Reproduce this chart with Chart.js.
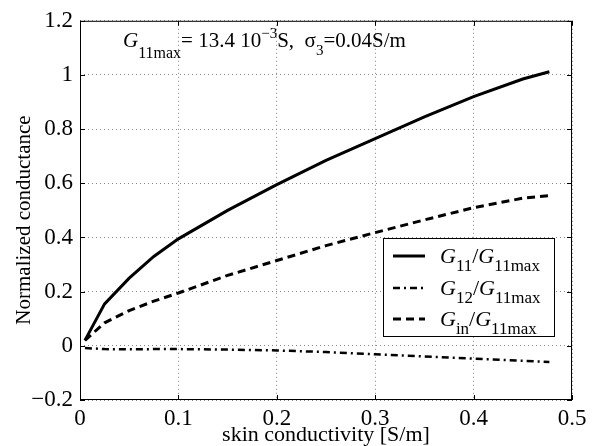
<!DOCTYPE html>
<html>
<head>
<meta charset="utf-8">
<script src="https://cdn.jsdelivr.net/npm/chart.js@4.4.1/dist/chart.umd.min.js"></script>
<style>
html,body{margin:0;padding:0;background:#fff;}
#wrap{width:599px;height:446px;}
</style>
</head>
<body>
<div id="wrap"><canvas id="c" width="599" height="446"></canvas></div>
<script>
const skinX = [0.005, 0.025, 0.05, 0.075, 0.1, 0.15, 0.2, 0.25, 0.3, 0.35, 0.4, 0.45, 0.477];
const g11 = [0.02, 0.155, 0.25, 0.33, 0.395, 0.50, 0.595, 0.685, 0.765, 0.845, 0.92, 0.985, 1.012];
const g12 = [-0.008, -0.012, -0.013, -0.012, -0.012, -0.014, -0.017, -0.023, -0.031, -0.039, -0.047, -0.055, -0.06];
const gin = [0.02, 0.085, 0.13, 0.165, 0.195, 0.26, 0.315, 0.37, 0.418, 0.465, 0.51, 0.545, 0.555];
const xTicks = [0, 0.1, 0.2, 0.3, 0.4, 0.5];
const xTickLabels = ['0', '0.1', '0.2', '0.3', '0.4', '0.5'];
const yTicks = [-0.2, 0, 0.2, 0.4, 0.6, 0.8, 1, 1.2];
const yTickLabels = ['\u22120.2', '0', '0.2', '0.4', '0.6', '0.8', '1', '1.2'];
const xTitle = 'skin conductivity [S/m]';
const yTitle = 'Normalized conductance';
const legendRows = [
  {main: '11', den: '11max'},
  {main: '12', den: '11max'},
  {main: 'in', den: '11max'}
];

const SERIF = '"Liberation Serif", "DejaVu Serif", serif';
const pts = arr => skinX.map((x, i) => ({x: x, y: arr[i]}));

const frame = {
  id: 'frame',
  afterDraw(chart) {
    const ctx = chart.ctx, a = chart.chartArea;
    const xs = chart.scales.x, ys = chart.scales.y;
    ctx.save();
    ctx.strokeStyle = '#000';
    ctx.lineWidth = 1;
    ctx.strokeRect(a.left + 0.5, a.top + 0.5, a.right - a.left - 1, a.bottom - a.top - 1);
    // inward ticks
    ctx.beginPath();
    xTicks.forEach(v => {
      const px = Math.round(xs.getPixelForValue(v)) + 0.5;
      ctx.moveTo(px, a.bottom); ctx.lineTo(px, a.bottom - 5);
      ctx.moveTo(px, a.top); ctx.lineTo(px, a.top + 5);
    });
    yTicks.forEach(v => {
      const py = Math.round(ys.getPixelForValue(v)) + 0.5;
      ctx.moveTo(a.left, py); ctx.lineTo(a.left + 5, py);
      ctx.moveTo(a.right, py); ctx.lineTo(a.right - 5, py);
    });
    ctx.stroke();

    // axis titles
    ctx.fillStyle = '#000';
    ctx.font = '22px ' + SERIF;
    ctx.textAlign = 'center';
    ctx.textBaseline = 'alphabetic';
    ctx.fillText(xTitle, (a.left + a.right) / 2, 441);
    ctx.save();
    ctx.translate(24, 220);
    ctx.rotate(-Math.PI / 2);
    ctx.textBaseline = 'middle';
    ctx.font = '21px ' + SERIF;
    ctx.fillText(yTitle, 0, 0);
    ctx.restore();

    // annotation text
    ctx.textBaseline = 'alphabetic';
    ctx.textAlign = 'left';
    let x = a.left + 43, y = a.top + 26;
    const put = (t, font, dy) => {
      ctx.font = font;
      ctx.fillText(t, x, y + (dy || 0));
      x += ctx.measureText(t).width;
    };
    put('G', 'italic 21px ' + SERIF);
    put('11max', '16px ' + SERIF, 11);
    put('= 13.4 10', '21px ' + SERIF);
    put('\u22123', '15px ' + SERIF, -9);
    put('S,  \u03c3', '21px ' + SERIF);
    put('3', '15px ' + SERIF, 8);
    put('=0.04S/m', '21px ' + SERIF);

    // legend
    const lx = 383, ly = 238, lw = 171, lh = 98;
    ctx.fillStyle = '#fff';
    ctx.fillRect(lx, ly, lw, lh);
    ctx.strokeStyle = '#000';
    ctx.lineWidth = 1;
    ctx.strokeRect(lx + 0.5, ly + 0.5, lw, lh);
    const rowY = [256, 288, 319];
    chart.data.datasets.forEach((ds, i) => {
      ctx.save();
      ctx.strokeStyle = ds.borderColor;
      ctx.lineWidth = ds.borderWidth;
      ctx.setLineDash(ds.borderDash || []);
      ctx.beginPath();
      ctx.moveTo(lx + 10, rowY[i]);
      ctx.lineTo(lx + 42, rowY[i]);
      ctx.stroke();
      ctx.restore();
      ctx.fillStyle = '#000';
      x = lx + 57; y = rowY[i] + 7;
      put('G', 'italic 22px ' + SERIF);
      put(legendRows[i].main, '17px ' + SERIF, 8);
      put('/', '22px ' + SERIF);
      put('G', 'italic 22px ' + SERIF);
      put(legendRows[i].den, '17px ' + SERIF, 8);
    });
    ctx.restore();
  }
};

new Chart(document.getElementById('c'), {
  type: 'scatter',
  data: {
    datasets: [
      {label: 'G11/G11max', data: pts(g11), showLine: true, borderColor: '#000', borderWidth: 3, pointRadius: 0, borderDash: []},
      {label: 'G12/G11max', data: pts(g12), showLine: true, borderColor: '#000', borderWidth: 2.5, pointRadius: 0, borderDash: [7, 4, 2, 4]},
      {label: 'Gin/G11max', data: pts(gin), showLine: true, borderColor: '#000', borderWidth: 3, pointRadius: 0, borderDash: [8, 5]}
    ]
  },
  options: {
    responsive: false,
    animation: false,
    layout: {padding: {top: 14, right: 27, left: 0, bottom: 0}},
    plugins: {legend: {display: false}, tooltip: {enabled: false}},
    scales: {
      x: {
        type: 'linear', min: 0, max: 0.5,
        afterBuildTicks: s => { s.ticks = xTicks.map(v => ({value: v})); },
        afterFit: s => { s.height = 46; },
        ticks: {
          color: '#000', padding: 5, maxRotation: 0,
          font: {family: SERIF, size: 23},
          callback: (v) => { const i = xTicks.findIndex(t => Math.abs(t - v) < 1e-9); return i >= 0 ? xTickLabels[i] : ''; }
        },
        grid: {color: '#888', lineWidth: 1, drawTicks: false},
        border: {display: false, dash: [1, 3]},
        title: {display: false}
      },
      y: {
        type: 'linear', min: -0.2, max: 1.2,
        afterBuildTicks: s => { s.ticks = yTicks.map(v => ({value: v})); },
        afterFit: s => { s.width = 80; },
        ticks: {
          color: '#000', padding: 7,
          font: {family: SERIF, size: 23},
          callback: (v) => { const i = yTicks.findIndex(t => Math.abs(t - v) < 1e-9); return i >= 0 ? yTickLabels[i] : ''; }
        },
        grid: {color: '#888', lineWidth: 1, drawTicks: false},
        border: {display: false, dash: [1, 3]},
        title: {display: false}
      }
    }
  },
  plugins: [frame]
});
</script>
</body>
</html>
